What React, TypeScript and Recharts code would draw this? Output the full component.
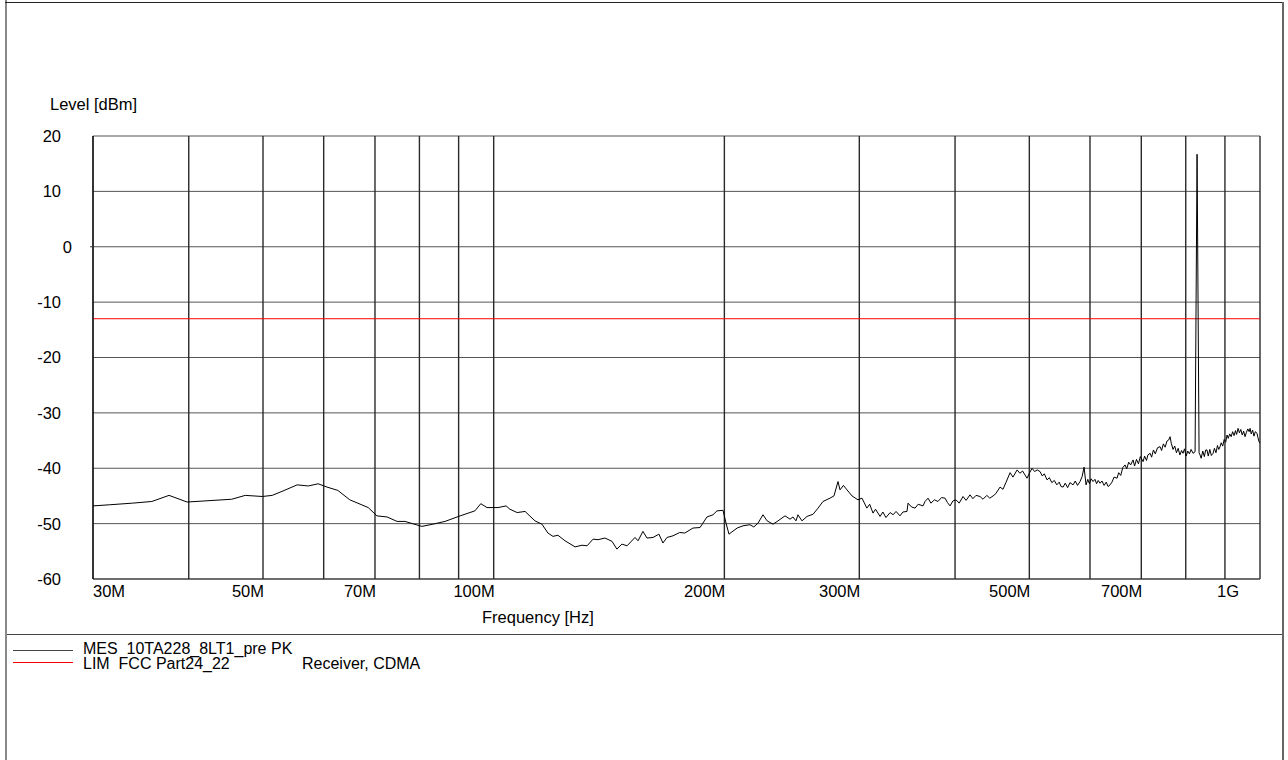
import { LineChart, Line, XAxis, YAxis, CartesianGrid } from "recharts";

// measured trace, [frequency in MHz, level in dBm]
const MES_TRACE: [number, number][] = [
  [30.0, -46.8], [31.5, -46.6], [33.8, -46.3], [35.8, -46.0], [37.7, -44.9], [39.8, -46.1],
  [42.0, -45.9], [45.5, -45.6], [47.4, -44.9], [49.9, -45.1], [51.4, -44.9], [53.1, -44.1],
  [55.4, -43.0], [57.3, -43.2], [59.0, -42.8], [60.6, -43.4], [62.6, -44.0], [64.9, -45.7],
  [68.6, -47.1], [70.4, -48.6], [72.6, -48.8], [74.8, -49.6], [76.6, -49.6], [80.6, -50.5],
  [83.3, -50.1], [86.4, -49.6], [90.4, -48.6], [94.5, -47.7], [96.2, -46.4], [98.0, -47.1],
  [101.3, -47.1], [103.8, -46.8], [105.0, -47.4], [107.3, -48.0], [109.9, -47.8], [113.2, -49.5],
  [115.6, -50.1], [117.7, -51.7], [119.5, -52.3], [121.3, -52.1], [123.9, -53.1], [127.7, -54.2],
  [130.4, -53.9], [132.4, -54.0], [134.8, -52.8], [136.8, -52.9], [139.7, -52.6], [142.7, -53.2],
  [144.8, -54.6], [147.0, -53.7], [149.3, -54.0], [152.9, -52.5], [154.3, -53.1], [156.6, -51.4],
  [158.5, -52.6], [161.4, -52.5], [164.3, -51.9], [166.3, -53.5], [168.3, -52.5], [171.4, -52.2],
  [174.9, -51.6], [177.6, -51.7], [182.0, -50.8], [185.9, -50.7], [189.8, -48.8], [193.3, -48.4],
  [195.6, -47.7], [199.2, -47.6], [201.0, -49.9], [202.8, -51.9], [207.8, -50.8], [211.5, -50.4],
  [216.0, -50.2], [218.5, -50.6], [221.3, -49.9], [224.6, -48.4], [227.4, -49.5], [231.5, -50.1],
  [235.0, -49.5], [240.0, -48.6], [243.6, -49.2], [245.8, -48.8], [248.0, -49.5], [249.5, -48.4],
  [252.5, -49.5], [256.4, -48.7], [261.1, -48.3], [265.0, -47.2], [269.0, -46.0], [274.7, -45.4],
  [278.0, -45.0], [281.4, -42.4], [283.1, -43.9], [286.0, -43.1], [289.1, -43.9], [293.5, -45.0],
  [298.8, -45.7], [302.4, -45.4], [306.9, -47.2], [309.5, -46.5], [312.6, -48.1], [315.0, -47.4],
  [319.3, -48.7], [322.0, -47.9], [325.0, -48.9], [329.1, -48.0], [332.1, -48.4], [335.0, -47.8],
  [339.0, -48.6], [342.0, -47.9], [346.2, -47.8], [347.3, -46.3], [351.0, -47.0], [354.7, -47.2],
  [358.0, -46.5], [363.3, -46.8], [365.5, -46.0], [368.8, -45.4], [372.0, -46.3], [376.0, -45.7],
  [380.0, -46.0], [384.0, -45.3], [388.1, -45.4], [391.0, -46.2], [394.0, -46.8], [397.5, -45.9],
  [401.1, -45.7], [405.0, -46.3], [409.7, -45.1], [413.5, -45.8], [418.4, -44.8], [422.0, -45.5],
  [426.0, -44.9], [431.2, -45.1], [435.0, -45.6], [440.0, -44.9], [444.0, -45.4], [448.4, -45.0],
  [452.0, -44.6], [457.9, -43.4], [462.0, -43.8], [466.0, -42.6], [471.9, -40.8], [476.0, -41.6],
  [482.0, -40.3], [486.0, -40.9], [490.0, -40.5], [496.6, -41.8], [500.5, -40.8], [504.2, -40.0],
  [508.0, -40.6], [512.0, -40.3], [516.4, -40.6], [520.0, -41.4], [523.0, -41.0], [527.4, -42.1],
  [531.0, -41.7], [535.0, -42.6], [539.0, -42.2], [543.0, -43.0], [547.0, -42.5], [550.0, -43.3],
  [553.4, -43.4], [557.0, -42.7], [561.0, -43.5], [565.0, -42.6], [570.3, -43.0], [574.0, -42.3],
  [578.0, -43.1], [582.3, -42.4], [586.0, -41.5], [589.4, -39.8], [592.9, -43.0], [596.0, -42.0],
  [599.0, -42.8], [602.0, -41.9], [605.5, -42.4], [609.0, -42.0], [612.0, -42.8], [615.0, -42.2],
  [618.4, -42.7], [622.0, -42.3], [626.0, -43.1], [630.0, -42.5], [633.5, -43.3], [637.3, -43.0],
  [641.0, -42.5], [645.0, -41.6], [650.8, -41.8], [654.0, -40.8], [658.0, -41.3], [662.0, -39.9],
  [666.6, -39.4], [670.0, -40.1], [674.0, -38.9], [678.0, -39.4], [682.9, -38.5], [686.0, -39.6],
  [690.0, -38.4], [694.0, -39.2], [698.0, -37.9], [703.7, -38.8], [707.0, -37.8], [711.0, -38.6],
  [714.0, -37.6], [718.8, -37.3], [722.0, -38.0], [726.0, -36.7], [730.0, -37.4], [735.0, -36.3],
  [740.6, -36.1], [744.0, -36.8], [748.0, -35.6], [752.0, -36.2], [756.0, -35.1], [760.0, -34.9],
  [763.2, -34.3], [766.0, -35.5], [770.1, -36.6], [774.0, -36.0], [778.0, -37.2], [782.0, -36.4],
  [786.0, -37.6], [790.0, -36.8], [793.5, -37.3], [797.0, -36.5], [801.0, -37.8], [805.0, -36.9],
  [809.0, -37.4], [813.0, -36.6], [817.8, -37.3], [822.8, -37.0], [827.7, 16.7], [832.7, -37.2],
  [835.2, -37.6], [838.0, -38.2], [842.0, -36.9], [846.0, -37.9], [849.5, -36.7], [852.8, -36.7],
  [856.0, -37.8], [860.0, -36.6], [864.0, -37.7], [868.5, -37.3], [872.0, -36.4], [876.0, -37.2],
  [880.0, -35.9], [883.5, -36.6], [886.9, -36.1], [890.0, -35.4], [894.0, -36.0], [898.0, -34.8],
  [902.0, -35.3], [905.7, -34.0], [909.0, -34.6], [913.0, -33.8], [917.0, -34.3], [921.0, -33.4],
  [925.0, -34.1], [929.0, -33.2], [932.0, -33.9], [936.2, -32.8], [940.0, -33.6], [944.0, -33.0],
  [948.0, -34.0], [952.0, -33.3], [956.1, -34.3], [960.0, -33.5], [964.0, -32.9], [968.0, -33.4],
  [970.6, -32.8], [974.0, -33.8], [978.0, -33.1], [982.0, -34.2], [986.0, -33.4], [991.2, -33.7],
  [994.0, -34.5], [997.0, -35.2], [1000.0, -35.5],
];

// FCC Part 24 limit
const LIM_FREQ_MHZ = [30, 1000];
const LIM_LEVEL_DBM = [-13, -13];

const GRID_FREQS = [30, 40, 50, 60, 70, 80, 90, 100, 200, 300, 400, 500, 600, 700, 800, 900, 1000];
const FREQ_LABELS: Record<number, string> = {
  30: "30M", 50: "50M", 70: "70M", 100: "100M", 200: "200M",
  300: "300M", 500: "500M", 700: "700M", 1000: "1G",
};
const LEVEL_TICKS = [-60, -50, -40, -30, -20, -10, 0, 10, 20];

const FONT = "Arial, 'Liberation Sans', sans-serif";
const FS = 16.5;

const mesData = MES_TRACE.map(([freq, level]) => ({ freq, level }));
const limData = LIM_FREQ_MHZ.map((freq, i) => ({ freq, level: LIM_LEVEL_DBM[i] }));

const FreqTick = (props: any) => {
  const { x, payload } = props;
  const label = FREQ_LABELS[payload.value];
  if (!label) return null;
  let anchor = "end";
  let tx = x + 1;
  if (payload.value === 30) { anchor = "start"; tx = x; }
  if (payload.value === 1000) { tx = x - 21; }
  return <text x={tx} y={597} textAnchor={anchor} fontSize={FS} fontFamily={FONT} fill="#000">{label}</text>;
};

const LevelTick = (props: any) => {
  const { y, payload } = props;
  const v = payload.value;
  return <g>
      {v === 0 && <line x1={90} x2={93} y1={y} y2={y} stroke="#333" />}
      <text x={v === 0 ? 72 : 61} y={y} dy="0.36em" textAnchor="end" fontSize={FS} fontFamily={FONT} fill="#000">{v}</text>
    </g>;
};

const App = () => {
  return <div style={{ position: "absolute", left: 0, top: 0, width: 1288, height: 760, background: "#fff", overflow: "hidden", fontFamily: FONT }}>
      {/* page frame */}
      <div style={{ position: "absolute", left: 5, top: 0, width: 2, height: 760, background: "#888" }} />
      <div style={{ position: "absolute", left: 5, top: 2, width: 1279, height: 1, background: "#222" }} />
      <div style={{ position: "absolute", left: 1282, top: 2, width: 2, height: 758, background: "#666" }} />
      <div style={{ position: "absolute", left: 7, top: 634, width: 1275, height: 1, background: "#444" }} />

      <div style={{ position: "absolute", left: 50, top: 95, fontSize: FS, color: "#000", whiteSpace: "nowrap" }}>Level [dBm]</div>
      <div style={{ position: "absolute", left: 482, top: 608, fontSize: FS, color: "#000", whiteSpace: "nowrap" }}>Frequency [Hz]</div>

      <div style={{ position: "absolute", left: 0, top: 0 }}>
        <LineChart width={1288} height={640} margin={{ top: 136, right: 28, left: 33, bottom: 31 }}>
          <CartesianGrid horizontal={true} vertical={false} stroke="#555" strokeWidth={1} />
          <CartesianGrid horizontal={false} vertical={true} stroke="#2a2a2a" strokeWidth={1.4} />
          <XAxis dataKey="freq" type="number" scale="log" domain={[30, 1000]} ticks={GRID_FREQS} allowDataOverflow
            interval={0} tick={<FreqTick />} tickLine={false} axisLine={{ stroke: "#333" }} height={30} />
          <YAxis type="number" domain={[-60, 20]} ticks={LEVEL_TICKS} allowDataOverflow interval={0}
            tick={<LevelTick />} tickLine={false} axisLine={{ stroke: "#000" }} width={60} />
          <Line data={limData} dataKey="level" stroke="#ff0000" strokeWidth={1} dot={false} isAnimationActive={false} />
          <Line data={mesData} dataKey="level" stroke="#000" strokeWidth={1} dot={false} isAnimationActive={false} />
        </LineChart>
      </div>

      {/* legend */}
      <div style={{ position: "absolute", left: 13, top: 650, width: 60, height: 1, background: "#444" }} />
      <div style={{ position: "absolute", left: 13, top: 662, width: 60, height: 1, background: "#ff0000" }} />
      <div style={{ position: "absolute", left: 83, top: 641, fontSize: 16, lineHeight: "15px", color: "#000", whiteSpace: "pre" }}>
        <div style={{ height: 15 }}>MES  10TA228_8LT1_pre PK</div>
        <div style={{ height: 15, position: "relative" }}>LIM  FCC Part24_22<span style={{ position: "absolute", left: 219 }}>Receiver, CDMA</span></div>
      </div>
    </div>;
};

export default App;
